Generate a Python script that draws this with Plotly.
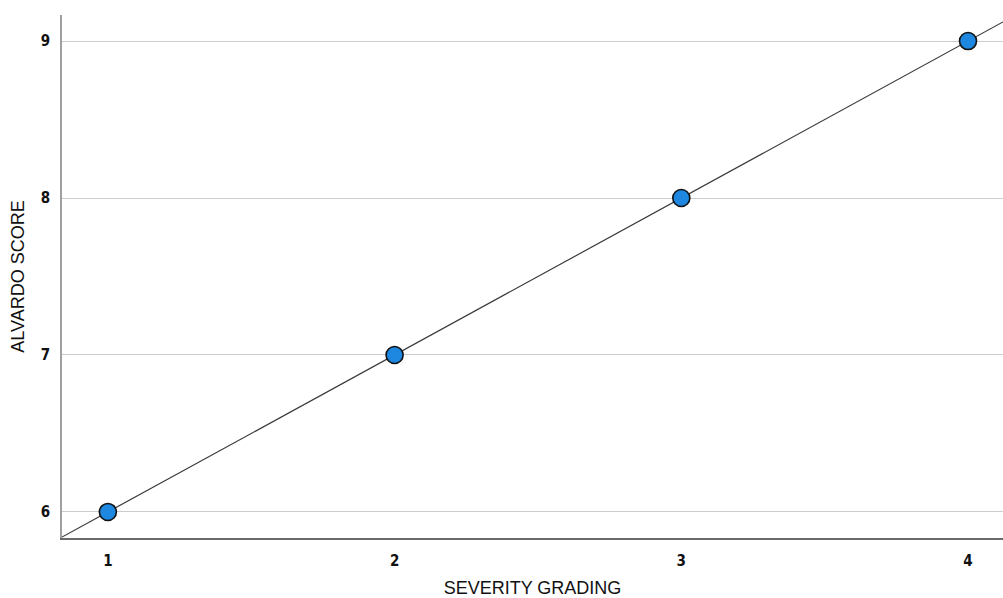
import numpy as np
import plotly.graph_objects as go

severity = [1, 2, 3, 4]
alvarado = [6, 7, 8, 9]
x_ticks = [1, 2, 3, 4]
y_ticks = [6, 7, 8, 9]

x_range = [0.84, 4.122]
y_range = [5.834, 9.166]

slope, intercept = np.polyfit(severity, alvarado, 1)
fit_x = np.array(x_range)
fit_y = slope * fit_x + intercept

fig = go.Figure()
fig.add_trace(go.Scatter(x=fit_x, y=fit_y, mode="lines",
                         line=dict(color="#3a3a3a", width=1.2),
                         hoverinfo="skip", showlegend=False))
fig.add_trace(go.Scatter(x=severity, y=alvarado, mode="markers",
                         marker=dict(size=17, color="#1e88e0",
                                     line=dict(color="#111111", width=1.6)),
                         showlegend=False))

tickfont = dict(family="Liberation Sans Narrow, DejaVu Sans Condensed, Liberation Sans, Arial",
                size=15, color="#111111", weight="bold")
titlefont = dict(family="Liberation Sans, Arial", size=18, color="#111111")

fig.update_layout(
    width=1003, height=598,
    margin=dict(l=62, r=0, t=15, b=60),
    plot_bgcolor="white", paper_bgcolor="white",
    xaxis=dict(range=x_range, tickvals=x_ticks, showgrid=False, zeroline=False,
               showline=True, linecolor="#6b6b6b", linewidth=1.5,
               tickfont=tickfont, ticks="", ticklabelstandoff=8,
               title=dict(text="SEVERITY GRADING", font=titlefont, standoff=24),
               automargin=False),
    yaxis=dict(range=y_range, tickvals=y_ticks, showgrid=True, gridcolor="#cccccc",
               gridwidth=1.3, zeroline=False,
               showline=True, linecolor="#a0a0a0", linewidth=1.5,
               tickfont=tickfont, ticks="", ticklabelstandoff=7,
               title=dict(text="ALVARDO SCORE", font=titlefont, standoff=12),
               automargin=False),
)

fig.write_html("out.html", config={"displayModeBar": False},
               post_script="document.body.style.margin='0';document.body.style.overflow='hidden';")
